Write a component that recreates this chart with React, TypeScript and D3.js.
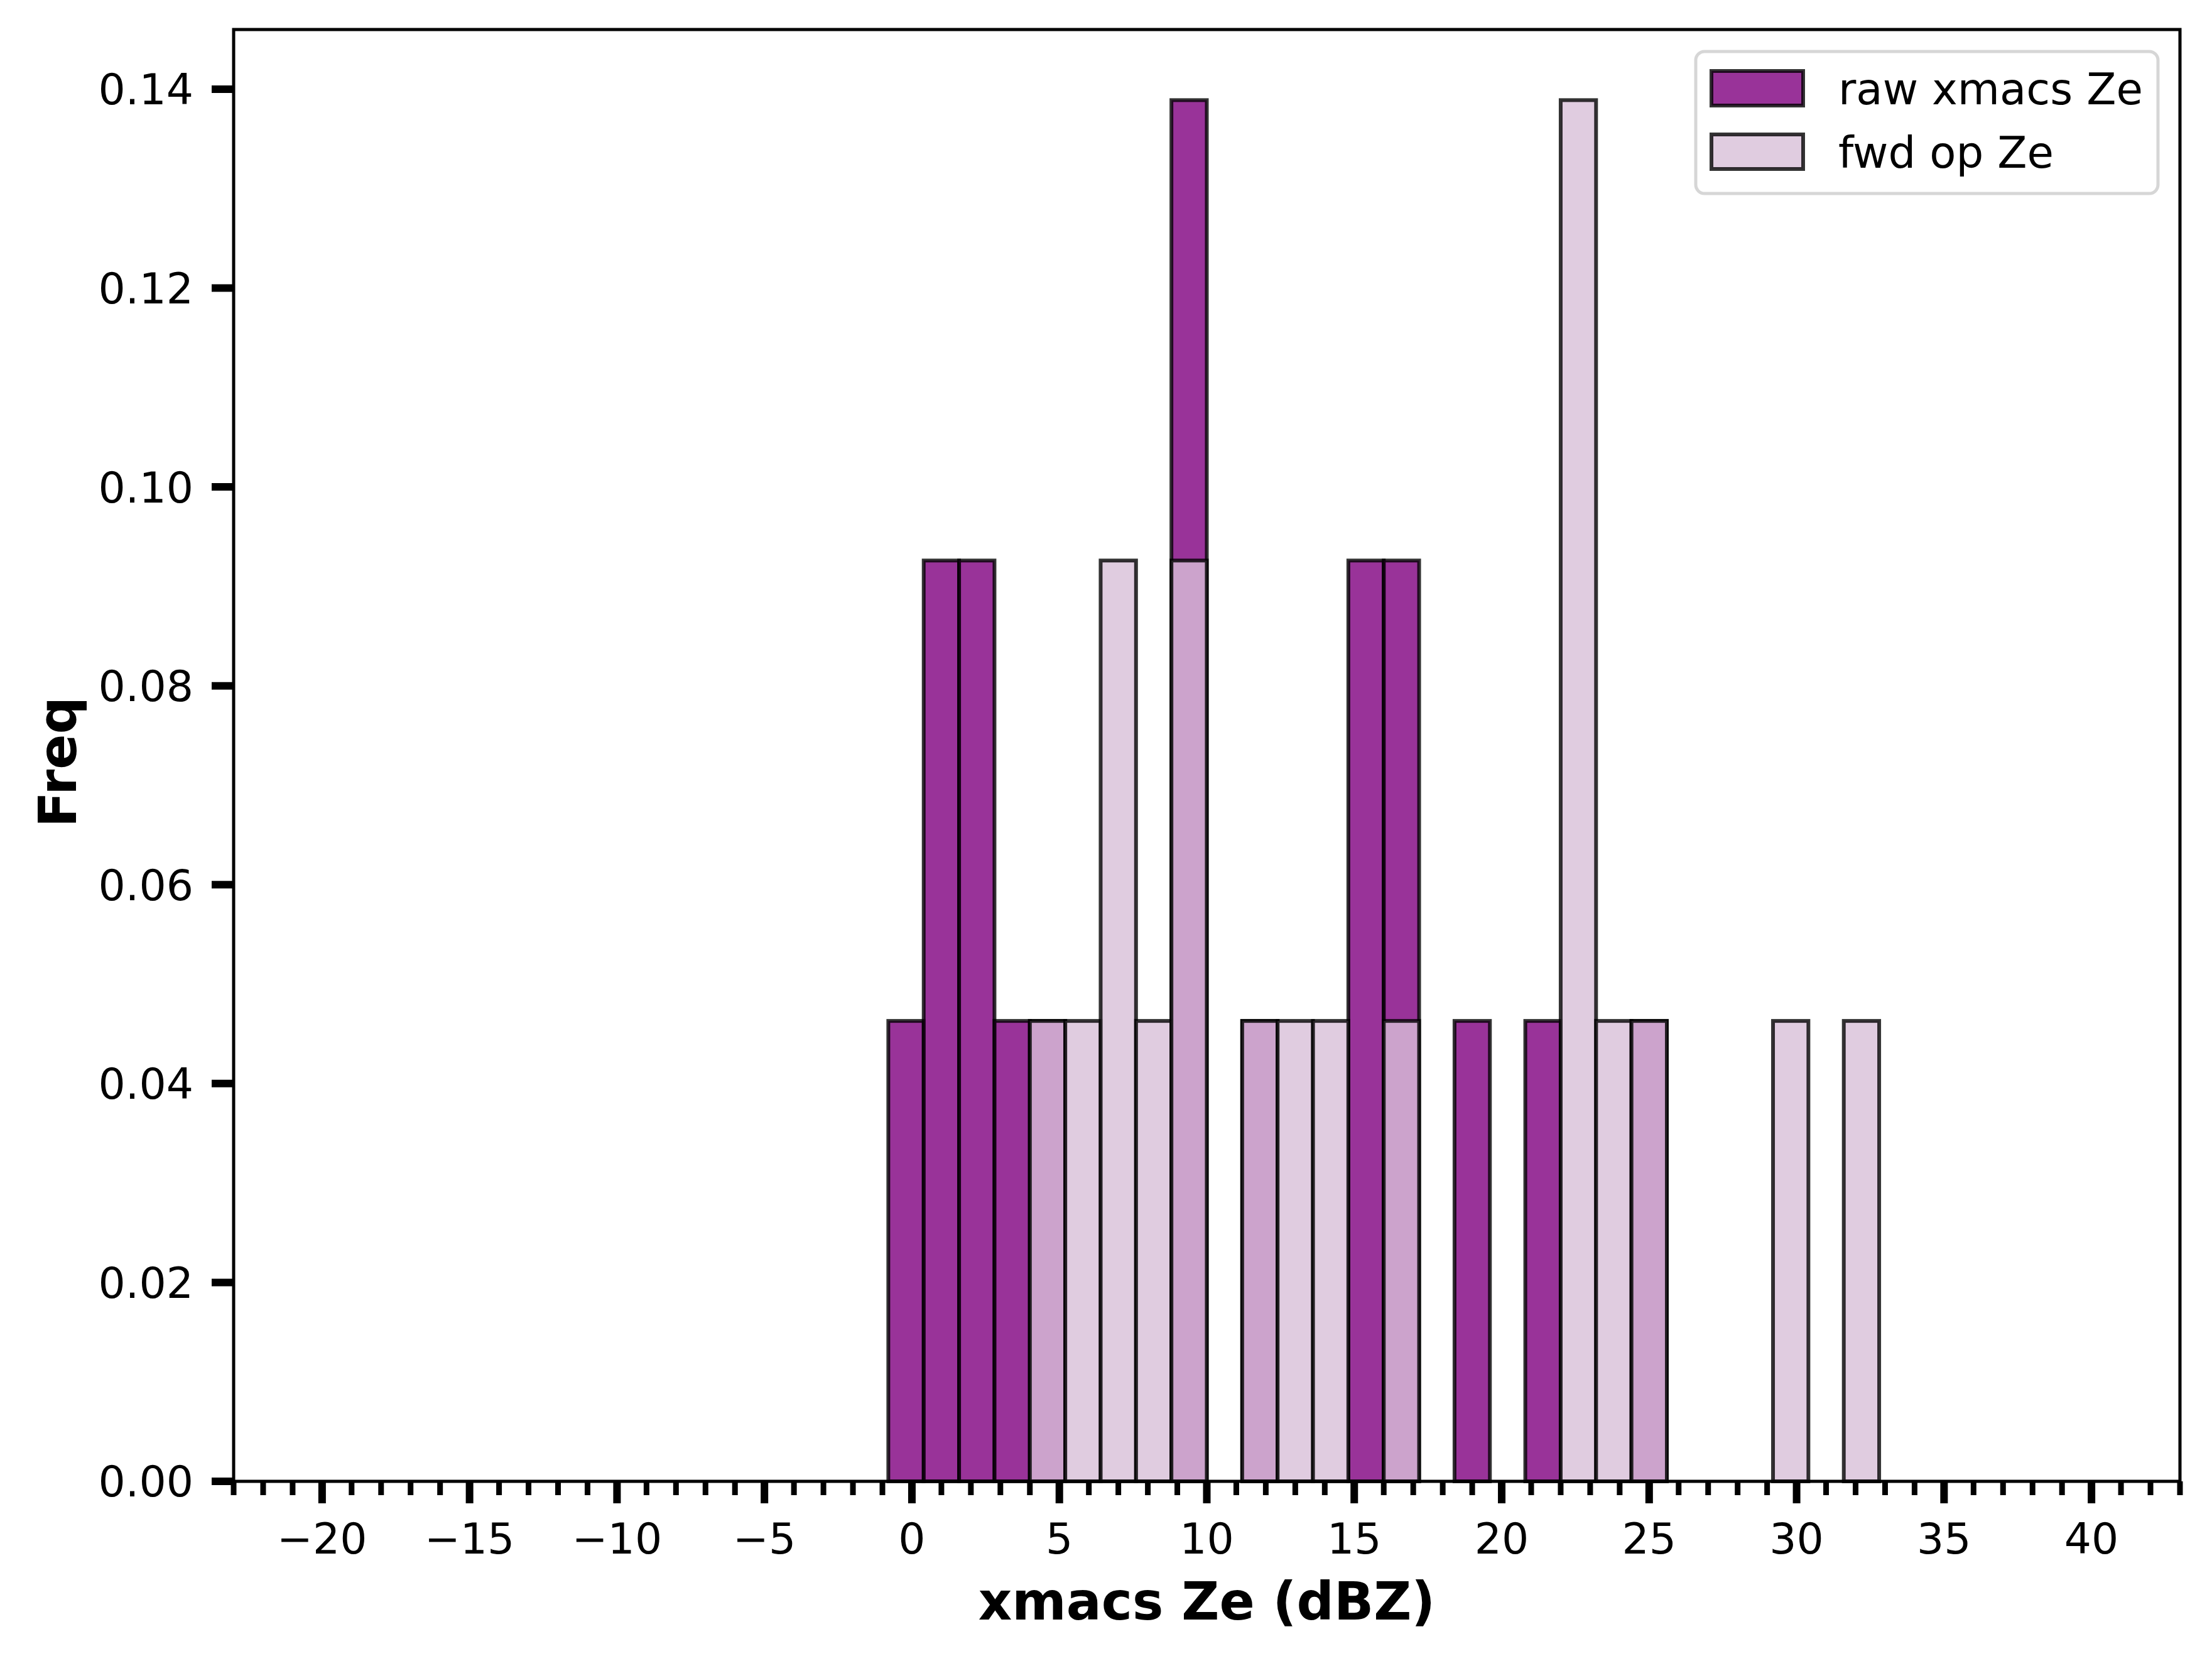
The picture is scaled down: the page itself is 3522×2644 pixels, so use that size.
import React from "react";
import * as d3 from "d3";

// ---- data ----
const binLeft = [
  -0.8, 0.4, 1.6, 2.8, 4.0, 5.2, 6.4, 7.6, 8.8, 10.0, 11.2, 12.4, 13.6, 14.8,
  16.0, 17.2, 18.4, 19.6, 20.8, 22.0, 23.2, 24.4, 25.6, 26.8, 28.0, 29.2, 30.4, 31.6,
];
const binWidth = 1.2;
const rawFreq = [
  0.0463, 0.0926, 0.0926, 0.0463, 0.0463, 0, 0, 0, 0.1389, 0, 0.0463, 0, 0, 0.0926,
  0.0926, 0, 0.0463, 0, 0.0463, 0, 0, 0.0463, 0, 0, 0, 0, 0, 0,
];
const fwdFreq = [
  0, 0, 0, 0, 0.0463, 0.0463, 0.0926, 0.0463, 0.0926, 0, 0.0463, 0.0463, 0.0463, 0,
  0.0463, 0, 0, 0, 0, 0.1389, 0.0463, 0.0463, 0, 0, 0, 0.0463, 0, 0.0463,
];
const xMajorTicks = [-20, -15, -10, -5, 0, 5, 10, 15, 20, 25, 30, 35, 40];
const yTicks = [0, 0.02, 0.04, 0.06, 0.08, 0.1, 0.12, 0.14];
const seriesNames = ["raw xmacs Ze", "fwd op Ze"];
const seriesColors = ["purple", "thistle"];
const xLabel = "xmacs Ze (dBZ)";
const yLabel = "Freq";

const W = 3522;
const H = 2644;
const L = 372, R = 3471, T = 47, B = 2358;
const FONT = "'DejaVu Sans', sans-serif";

export default function App() {
  const x = d3.scaleLinear().domain([-23, 43]).range([L, R]);
  const y = d3.scaleLinear().domain([0, 0.146]).range([B, T]);
  const minor = d3.range(-23, 44, 1).filter((v) => v % 5 !== 0);
  const fmtY = d3.format(".2f");
  const fmtX = (v: number) => (v < 0 ? "\u2212" + Math.abs(v) : String(v));

  const series = [rawFreq, fwdFreq];

  return (
    <svg
      width={W}
      height={H}
      viewBox={`0 0 ${W} ${H}`}
      style={{ position: "absolute", left: 0, top: 0, background: "white" }}
      fontFamily={FONT}
    >
      <rect x={0} y={0} width={W} height={H} fill="white" />
      {/* bars */}
      {series.map((vals, si) => (
        <g key={si}>
          {vals.map((v, i) =>
            v > 0 ? (
              <rect
                key={i}
                x={x(binLeft[i])}
                y={y(v)}
                width={x(binLeft[i] + binWidth) - x(binLeft[i])}
                height={y(0) - y(v)}
                fill={seriesColors[si]}
                fillOpacity={0.8}
                stroke="black"
                strokeOpacity={0.8}
                strokeWidth={6}
              />
            ) : null
          )}
        </g>
      ))}
      {/* spines */}
      <rect x={L} y={T} width={R - L} height={B - T} fill="none" stroke="black" strokeWidth={5} />
      {/* x minor ticks */}
      {minor.map((v) => (
        <line key={"m" + v} x1={x(v)} x2={x(v)} y1={B} y2={B + 22} stroke="black" strokeWidth={9} />
      ))}
      {/* x major ticks */}
      {xMajorTicks.map((v) => (
        <g key={"x" + v}>
          <line x1={x(v)} x2={x(v)} y1={B} y2={B + 35} stroke="black" strokeWidth={12} />
          <text x={x(v)} y={2473} fontSize={68} textAnchor="middle" fill="black">
            {fmtX(v)}
          </text>
        </g>
      ))}
      {/* y ticks */}
      {yTicks.map((v) => (
        <g key={"y" + v}>
          <line x1={L - 35} x2={L} y1={y(v)} y2={y(v)} stroke="black" strokeWidth={12} />
          <text
            x={308}
            y={y(v)}
            dy="0.36em"
            fontSize={68}
            textAnchor="end"
            fill="black"
          >
            {fmtY(v)}
          </text>
        </g>
      ))}
      {/* axis labels */}
      <text x={(L + R) / 2} y={2578} fontSize={83} fontWeight="bold" textAnchor="middle" fill="black">
        {xLabel}
      </text>
      <text
        transform={`translate(121, 1213) rotate(-90)`}
        fontSize={83}
        fontWeight="bold"
        textAnchor="middle"
        fill="black"
      >
        {yLabel}
      </text>
      {/* legend */}
      <g>
        <rect
          x={2700}
          y={82}
          width={736}
          height={226}
          rx={14}
          ry={14}
          fill="white"
          fillOpacity={0.8}
          stroke="#cccccc"
          strokeOpacity={0.8}
          strokeWidth={5}
        />
        {seriesNames.map((name, i) => (
          <g key={name}>
            <rect
              x={2725}
              y={113 + i * 101}
              width={146}
              height={55}
              fill={seriesColors[i]}
              fillOpacity={0.8}
              stroke="black"
              strokeOpacity={0.8}
              strokeWidth={6}
            />
            <text x={2927} y={166 + i * 101} fontSize={69} fill="black">
              {name}
            </text>
          </g>
        ))}
      </g>
    </svg>
  );
}
